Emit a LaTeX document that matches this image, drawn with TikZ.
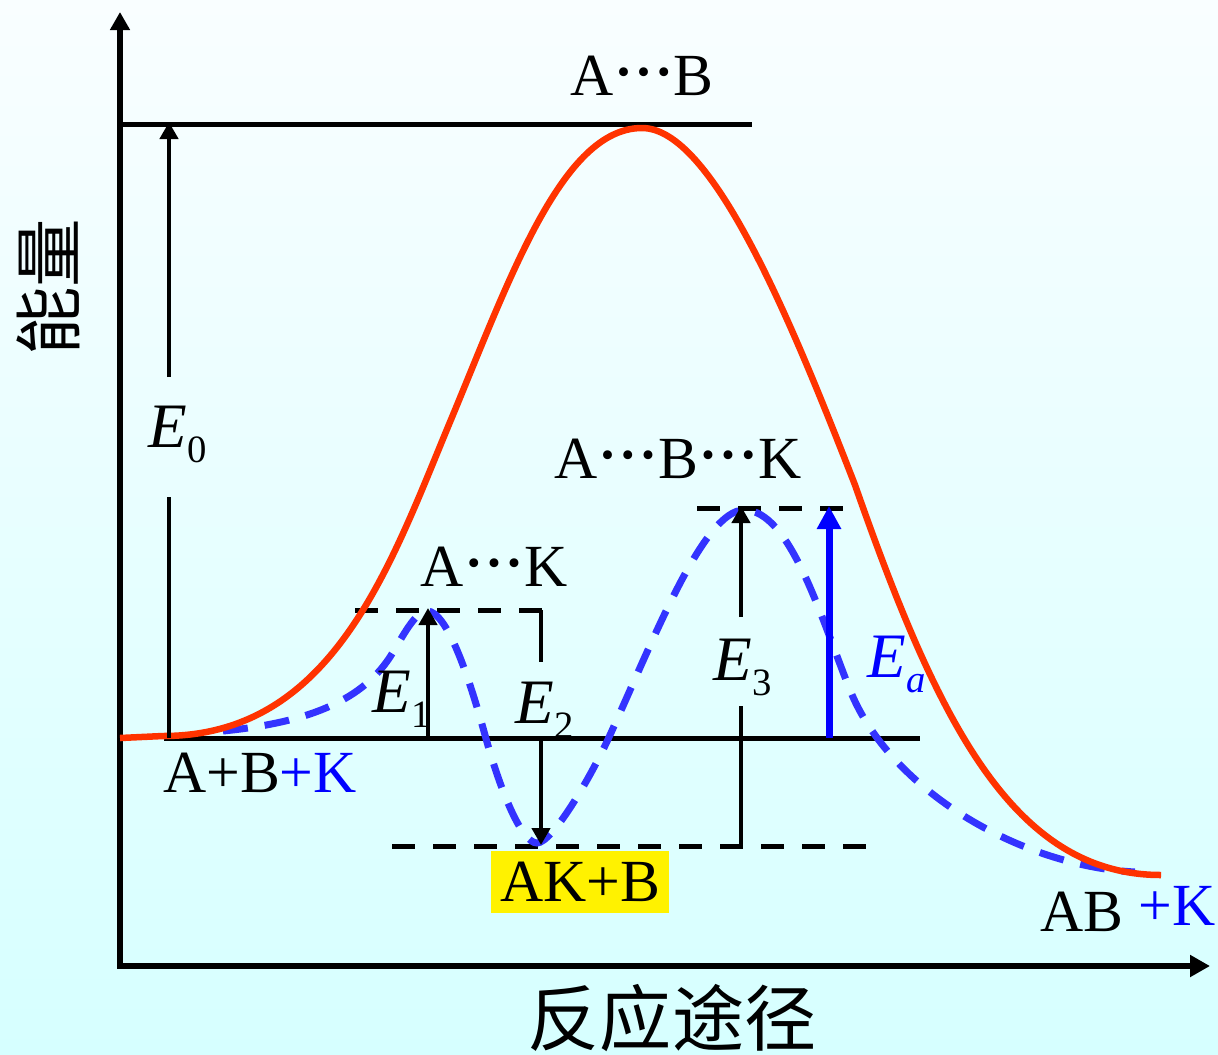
\documentclass[tikz,border=0pt]{standalone}
\usepackage{fontspec}
\setmainfont{Liberation Serif}
\newfontfamily\cjk{Noto Sans CJK SC}
\usetikzlibrary{arrows.meta}

\definecolor{bgtop}{RGB}{249,254,255}
\definecolor{bgbot}{RGB}{214,255,255}
\definecolor{pathred}{RGB}{255,51,0}
\definecolor{pathblue}{RGB}{51,51,255}

\newcommand\bdot{\hspace{0.06em}\raisebox{0.18em}{\scalebox{0.62}{\textbullet}}\hspace{0.06em}}
\newcommand\bdots{\bdot\bdot\bdot}
\newcommand\esub[1]{\raisebox{-0.25em}{\fontsize{11}{11}\selectfont #1}}

\begin{document}
\begin{tikzpicture}[x=0.01cm, y=-0.01cm,
    >={Triangle[length=0.17cm,width=0.18cm]},
    lbl/.style={inner sep=0pt, font=\fontsize{17}{20}\selectfont},
    elbl/.style={inner sep=0pt, anchor=base west, font=\fontsize{18}{20}\selectfont},
    cjklbl/.style={inner sep=0pt, font=\cjk\fontsize{20.5}{22}\selectfont},
    axis/.style={line width=0.055cm, line join=miter},
    level/.style={line width=0.05cm},
    dlevel/.style={line width=0.05cm, dash pattern=on 0.23cm off 0.18cm},
    earrow/.style={line width=0.045cm},
    red path/.style={pathred, line width=0.065cm, line join=round},
    cat path/.style={pathblue, line width=0.07cm, dash pattern=on 0.25cm off 0.17cm}]

    \shade[top color=bgtop, bottom color=bgbot] (0,0) rectangle (1218,1054);
    \useasboundingbox (0,0) rectangle (1218,1054);

    % axes
    \coordinate (ytip) at (120,12);
    \coordinate (orig) at (120,966);
    \coordinate (xtip) at (1210,966);
    \draw[axis, {Triangle[length=0.18cm,width=0.19cm]}-{Triangle[length=0.2cm,width=0.21cm]}] (ytip) -- (orig) -- (xtip);

    % levels
    \coordinate (ts0) at (120,124);   \coordinate (ts1) at (752,124);
    \coordinate (re0) at (164,738);   \coordinate (re1) at (920,738);
    \coordinate (ak0) at (355,610);   \coordinate (ak1) at (547,610);
    \coordinate (abk0) at (697,508);  \coordinate (abk1) at (848,508);
    \coordinate (in0) at (392,846);   \coordinate (in1) at (878,846);
    \draw[level] (ts0) -- (ts1);
    \draw[level] (re0) -- (re1);
    \draw[dlevel] (ak0) -- (ak1);
    \draw[dlevel] (abk0) -- (abk1);
    \draw[dlevel] (in0) -- (in1);

    % reaction paths
    \draw[cat path] (223,731) .. controls (303,723) and (360,703) .. (390,657)
        .. controls (402,638) and (415,611) .. (427,611)
        .. controls (447,611) and (469,677) .. (485,735)
        .. controls (501,793) and (522,843) .. (537,843)
        .. controls (552,843) and (590,779) .. (610,735)
        .. controls (655,636) and (704,510) .. (744,510)
        .. controls (790,510) and (820,615) .. (850,690)
        .. controls (890,790) and (1020,866) .. (1135,872);
    \draw[red path] (120,738) -- (163,736)
        .. controls (333,736) and (390,566) .. (450,422)
        .. controls (510,278) and (562,128) .. (642,128)
        .. controls (712,128) and (790,318) .. (855,485)
        .. controls (936,716) and (1011,875) .. (1161,875);

    % energies
    \node[elbl] (e0) at (148,447) {\textit{E}\esub{0}};
    \node[elbl] (e1) at (372,712) {\textit{E}\esub{1}};
    \node[elbl] (e2) at (515,723) {\textit{E}\esub{2}};
    \node[elbl] (e3) at (713,680) {\textit{E}\esub{3}};
    \node[elbl, blue] (ea) at (867,677) {\textit{E}\esub{\textit{a}}};

    \coordinate (e0b) at (169,738);  \coordinate (e0lo) at (169,497);  \coordinate (e0hi) at (169,377);
    \coordinate (e1b) at (428,738);
    \coordinate (e2hi) at (541,662); \coordinate (e2b) at (541,738);
    \coordinate (e3lo) at (741,706); \coordinate (e3hi) at (741,617);
    \coordinate (eab) at (829,738);
    \draw[earrow] (e0b) -- (e0lo);
    \draw[earrow, ->] (e0hi) -- ([yshift=0.02cm]e0hi |- ts0);
    \draw[earrow, ->] (e1b) -- ([yshift=0.02cm]e1b |- ak0);
    \draw[earrow] (e2hi |- ak0) -- (e2hi);
    \draw[earrow, ->] (e2b) -- ([yshift=0.01cm]e2b |- in0);
    \draw[earrow] (e3lo |- in0) -- (e3lo);
    \draw[earrow, ->] (e3hi) -- ([yshift=0.02cm]e3hi |- abk0);
    \draw[blue, line width=0.07cm, -{Triangle[length=0.23cm,width=0.23cm]}] (eab) -- ([yshift=0.02cm]eab |- abk0);

    % species
    \node[lbl] (ts) at (642,76) {A\bdots B};
    \node[lbl] (akts) at (494,567) {A\bdots K};
    \node[lbl] (abkts) at (678,459) {A\bdots B\bdots K};
    \node[lbl] (react) at (260,773) {A+B\textcolor{blue}{+K}};
    \node[lbl, fill=yellow, inner xsep=0.09cm, inner ysep=0.11cm] (inter) at (580,882) {AK+B};
    \node[lbl] (prod) at (1128,909) {AB \raisebox{0.1em}{\textcolor{blue}{+K}}};

    % axis titles
    \node[cjklbl, rotate=90, font=\cjk\fontsize{19.5}{21}\selectfont] (ylab) at (48,287) {能量};
    \node[cjklbl] (xlab) at (672,1018) {反应途径};
\end{tikzpicture}
\end{document}
